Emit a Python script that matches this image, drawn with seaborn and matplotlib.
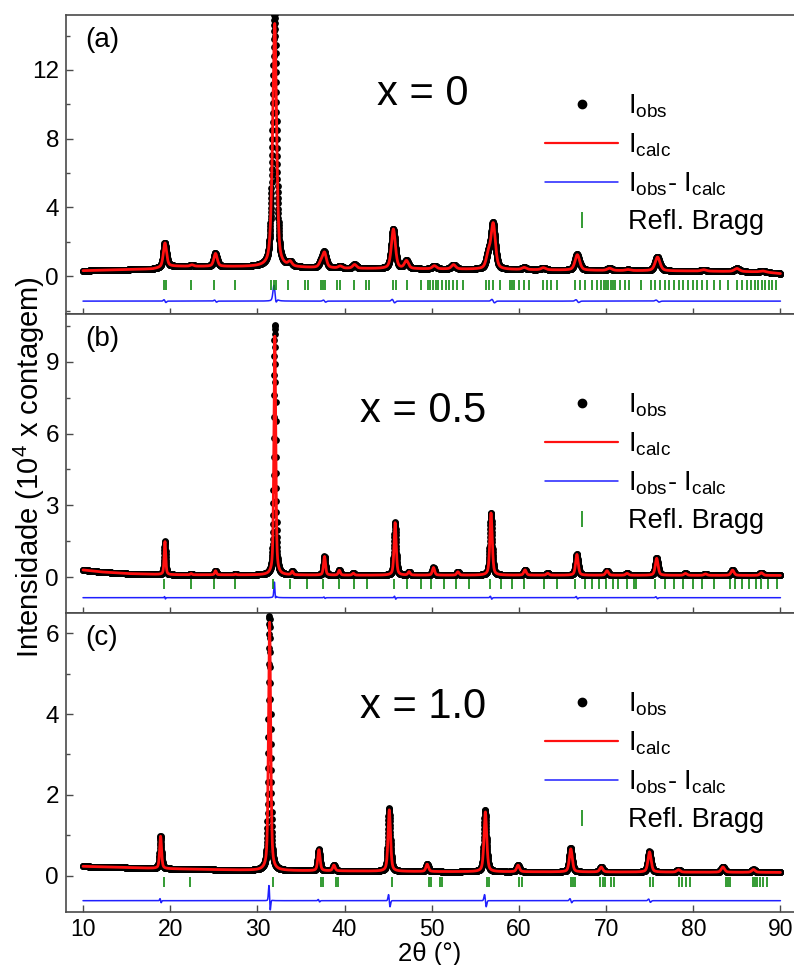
import numpy as np
import pandas as pd
import matplotlib
matplotlib.use("Agg")
import matplotlib.pyplot as plt
import seaborn as sns
from matplotlib.lines import Line2D

sns.set_theme(style="white")
plt.rcParams['font.family'] = ['Liberation Sans', 'DejaVu Sans']
plt.rcParams['mathtext.fontset'] = 'custom'
plt.rcParams['mathtext.rm'] = 'Liberation Sans'
plt.rcParams['mathtext.it'] = 'Liberation Sans:italic'
plt.rcParams['mathtext.bf'] = 'Liberation Sans:bold'
plt.rcParams['text.color'] = 'black'
plt.rcParams['axes.labelcolor'] = 'black'
plt.rcParams['xtick.labelcolor'] = 'black'
plt.rcParams['ytick.labelcolor'] = 'black'

# ---------------- data ----------------
# (a) x = 0
a_pos = [19.4, 22.5, 25.2, 31.7, 32.0, 33.75, 37.3, 37.7, 39.5, 41.15, 45.6, 47.1,
         50.3, 52.5, 56.5, 57.05, 60.6, 62.8, 66.7, 70.4, 72.5, 75.9, 81.2, 85.0, 88.0]
a_height = [1.4, 0.08, 0.75, 1.5, 13.6, 0.25, 0.3, 0.85, 0.12, 0.22, 2.3, 0.45,
            0.18, 0.25, 0.8, 2.6, 0.12, 0.12, 0.9, 0.13, 0.06, 0.8, 0.08, 0.18, 0.05]
a_excess = [0, 0, 0, 0, 0.6, 0, 0, 0, 0, 0, 0, 0,
            0, 0, 0, 0, 0, 0, 0, 0, 0, 0, 0, 0, 0]
a_wiggle = [0.08, 0, 0.06, 0, 0.45, 0, 0, 0.06, 0, 0, 0.1, 0,
            0, 0, 0, 0.1, 0, 0, 0.08, 0, 0, 0.06, 0, 0, 0]
a_bg_x = [10, 18, 20, 30, 40, 50, 60, 70, 80, 88, 90]
a_bg_y = [0.32, 0.42, 0.58, 0.55, 0.45, 0.42, 0.38, 0.33, 0.3, 0.25, 0.15]
a_bragg = [19.25, 19.47, 22.37, 25.06, 27.48, 31.62, 31.95, 32.16, 33.56, 35.50, 35.82,
           37.27, 37.54, 37.70, 39.16, 39.48, 41.04, 42.49, 42.81, 45.61, 45.93, 47.12,
           48.73, 49.54, 49.81, 50.18, 50.51, 50.77, 51.15, 51.58, 51.96, 52.39, 52.93,
           53.57, 56.26, 56.53, 57.07, 57.87, 58.95, 59.22, 59.49, 60.03, 60.56, 61.10,
           62.72, 63.25, 63.69, 64.33, 66.48, 67.02, 67.56, 68.37, 68.90, 69.44, 69.71,
           69.98, 70.25, 70.52, 70.79, 71.05, 71.59, 72.13, 72.67, 74.01, 75.20, 75.63,
           76.16, 76.70, 77.24, 77.78, 78.32, 78.85, 79.39, 79.93, 80.47, 81.01, 81.54,
           82.35, 83.05, 83.97, 85.04, 85.58, 86.12, 86.66, 87.04, 87.47, 87.89, 88.27,
           88.65, 89.08, 89.50]

# (b) x = 0.5
b_pos = [19.4, 22.4, 25.2, 27.5, 32.0, 34.0, 37.7, 39.4, 41.0, 45.8, 47.4, 50.2,
         53.0, 56.8, 60.7, 63.3, 66.65, 70.1, 72.4, 75.8, 79.1, 81.4, 84.5, 87.8]
b_height = [1.38, 0.05, 0.17, 0.03, 10.0, 0.14, 0.78, 0.2, 0.08, 2.2, 0.14, 0.32,
            0.14, 2.6, 0.22, 0.08, 0.87, 0.19, 0.08, 0.71, 0.08, 0.06, 0.22, 0.11]
b_excess = [0, 0, 0, 0, 0.45, 0, 0, 0, 0, 0, 0, 0,
            0, 0, 0, 0, 0, 0, 0, 0, 0, 0, 0, 0]
b_wiggle = [0.05, 0, 0, 0, 0.3, 0, 0.03, 0, 0, 0.06, 0, 0,
            0, 0.06, 0, 0, 0.05, 0, 0, 0.04, 0, 0, 0, 0]
b_bg_x = [10, 12, 15, 20, 40, 60, 90]
b_bg_y = [0.3, 0.22, 0.15, 0.1, 0.08, 0.08, 0.07]
b_bragg = [19.25, 22.37, 25.06, 27.48, 31.79, 33.78, 35.66, 37.54, 39.32, 41.04, 42.54,
           45.66, 47.12, 48.73, 49.97, 51.42, 52.77, 54.22, 56.69, 57.98, 59.22, 60.56,
           62.88, 64.33, 66.48, 67.56, 68.37, 69.17, 69.98, 70.79, 71.32, 72.40, 73.21,
           73.48, 75.63, 76.70, 77.78, 78.85, 79.93, 81.01, 82.35, 84.23, 84.77, 85.58,
           86.38, 87.19, 87.73, 88.54, 89.61]

# (c) x = 1.0
c_pos = [18.9, 31.4, 37.06, 38.78, 45.13, 49.48, 56.15, 59.9, 65.95, 69.44, 74.98,
         78.3, 83.4, 86.9]
c_height = [0.8, 6.15, 0.52, 0.14, 1.52, 0.18, 1.48, 0.16, 0.57, 0.12, 0.5, 0.06,
            0.13, 0.07]
c_excess = [0, 0.1, 0, 0, 0, 0, 0, 0, 0, 0, 0, 0, 0, 0]
c_wiggle = [0.05, 0.3, 0.03, 0, 0.15, 0, 0.15, 0, 0.05, 0, 0.04, 0, 0, 0]
c_bg_x = [10, 20, 30, 50, 70, 90]
c_bg_y = [0.23, 0.17, 0.13, 0.1, 0.09, 0.08]
c_bragg = [19.25, 22.26, 31.79, 37.27, 37.54, 39.05, 39.26, 45.40, 49.65, 49.91, 50.99,
           51.21, 56.37, 56.58, 60.03, 60.30, 65.94, 66.21, 66.48, 69.33, 69.60, 69.87,
           70.52, 70.95, 75.09, 75.36, 78.32, 78.75, 79.12, 79.66, 83.70, 83.97, 84.23,
           86.81, 87.09, 87.35, 87.62, 88.00, 88.43]

panel_labels = ["(a)", "(b)", "(c)"]
compositions = ["x = 0", "x = 0.5", "x = 1.0"]
x_ticks = [10, 20, 30, 40, 50, 60, 70, 80, 90]

# ---------------- layout / style ----------------
panels = [
    dict(pos=a_pos, h=a_height, ex=a_excess, wg=a_wiggle, bgx=a_bg_x, bgy=a_bg_y,
         bragg=a_bragg, w0=0.40, w1=0.004, ylim=(-2.2, 15.2), major=[0, 4, 8, 12],
         minor=[-2, 2, 6, 10, 14], tick_y=-0.5, diff_y=-1.45, text_y=0.735),
    dict(pos=b_pos, h=b_height, ex=b_excess, wg=b_wiggle, bgx=b_bg_x, bgy=b_bg_y,
         bragg=b_bragg, w0=0.18, w1=0.003, ylim=(-1.2, 11.0), major=[0, 3, 6, 9],
         minor=[-1.5, 1.5, 4.5, 7.5, 10.5], tick_y=-0.3, diff_y=-0.86, text_y=0.675),
    dict(pos=c_pos, h=c_height, ex=c_excess, wg=c_wiggle, bgx=c_bg_x, bgy=c_bg_y,
         bragg=c_bragg, w0=0.23, w1=0.003, ylim=(-0.9, 6.5), major=[0, 2, 4, 6],
         minor=[1, 3, 5], tick_y=-0.16, diff_y=-0.62, text_y=0.686),
]

W, H = 794, 965
fig = plt.figure(figsize=(W / 100, H / 100), dpi=100)
left = 66 / W
ax_w = 1.0 - left
tops = [15, 314, 613]
ax_h = 299 / H

x = np.arange(10.0, 90.0001, 0.015)


def pv(xx, x0, w, eta=0.5):
    u = (xx - x0) / w
    return eta / (1 + 4 * u ** 2) + (1 - eta) * np.exp(-4 * np.log(2) * u ** 2)


def dshape(xx, x0, w):
    u = (xx - x0) / w
    return u * np.exp(-4 * np.log(2) * u ** 2) / 0.258


spine_col = "#4a4a4a"
red = "#ff1010"
blue = "#1f1fff"
green = "#108a10"
axes = []
for i, p in enumerate(panels):
    ax = fig.add_axes([left, 1 - (tops[i] + 299) / H, ax_w, ax_h])
    axes.append(ax)
    bg = np.interp(x, p["bgx"], p["bgy"])
    calc = bg.copy()
    resid = np.zeros_like(x)
    for x0, hh, ex, wg in zip(p["pos"], p["h"], p["ex"], p["wg"]):
        w = p["w0"] + p["w1"] * (x0 - 10)
        calc += hh * pv(x, x0, w)
        resid += ex * pv(x, x0, w * 0.8) - wg * dshape(x, x0, w * 0.6)
    obs = calc + resid
    df = pd.DataFrame({"tt": x, "obs": obs, "calc": calc, "diff": p["diff_y"] + resid})

    sns.lineplot(data=df, x="tt", y="diff", ax=ax, color=blue, lw=1.1,
                 sort=False, estimator=None, zorder=2)
    sns.scatterplot(data=df, x="tt", y="obs", ax=ax, color="black", s=24,
                    linewidth=0, zorder=3, legend=False)
    sns.lineplot(data=df, x="tt", y="calc", ax=ax, color=red, lw=2.0,
                 sort=False, estimator=None, zorder=4)
    bdf = pd.DataFrame({"tt": p["bragg"], "y": [p["tick_y"]] * len(p["bragg"])})
    sns.scatterplot(data=bdf, x="tt", y="y", ax=ax, marker="|", s=45,
                    color=green, linewidth=1.2, zorder=3, legend=False)

    ax.set_xlim(8.05, 91.55)
    ax.set_ylim(*p["ylim"])
    ax.set_xticks(x_ticks)
    ax.set_yticks(p["major"])
    ax.set_yticks(p["minor"], minor=True)
    ax.set_yticklabels([f"{v:g}" for v in p["major"]])
    ax.set_xlabel("")
    ax.set_ylabel("")
    for s in ["left", "top", "bottom"]:
        ax.spines[s].set_color(spine_col)
        ax.spines[s].set_linewidth(1.2)
    ax.spines["right"].set_visible(False)
    ax.tick_params(axis="y", which="major", direction="in", length=5, width=1,
                   color=spine_col, labelsize=17.5, pad=5, left=True)
    ax.tick_params(axis="y", which="minor", direction="in", length=3, width=1,
                   color=spine_col, left=True)
    if i < 2:
        ax.tick_params(axis="x", which="major", direction="inout", length=9, width=1,
                       color=spine_col, labelbottom=False, bottom=True)
    else:
        ax.tick_params(axis="x", which="major", direction="in", length=5, width=1,
                       color=spine_col, labelsize=16.5, pad=4, bottom=True)
        ax.set_xlabel("2θ (°)", fontsize=18.5, labelpad=1)

    ax.text(0.026, 0.915, panel_labels[i], transform=ax.transAxes, fontsize=20,
            ha="left", va="center")
    ax.text(0.49, p["text_y"], compositions[i], transform=ax.transAxes, fontsize=30,
            ha="center", va="center")

    handles = [
        Line2D([], [], marker="o", color="black", ls="", markersize=6),
        Line2D([], [], color=red, lw=1.6),
        Line2D([], [], color=blue, lw=1.1),
        Line2D([], [], marker="|", color=green, ls="", markersize=12, mew=1.2),
    ]
    labels = [r"I$_{\mathrm{obs}}$", r"I$_{\mathrm{calc}}$",
              r"I$_{\mathrm{obs}}$- I$_{\mathrm{calc}}$", "Refl. Bragg"]
    ax.legend(handles, labels, loc="upper left", bbox_to_anchor=(0.658, 0.74),
              frameon=False, fontsize=19.5, handlelength=2.7, handletextpad=0.35,
              labelspacing=0.42, borderpad=0, borderaxespad=0)

fig.text(0.037, 0.516, r"Intensidade (10$^4$ x contagem)", rotation=90,
         fontsize=21, ha="center", va="center")

fig.savefig("out.png", dpi=100)
